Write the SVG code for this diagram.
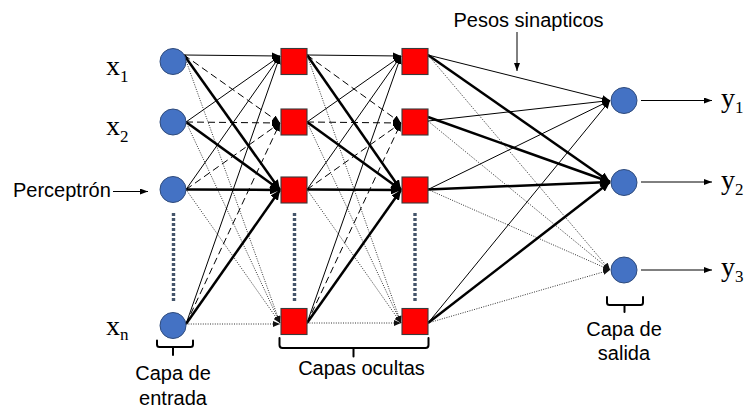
<svg xmlns="http://www.w3.org/2000/svg" width="744" height="410" viewBox="0 0 744 410">
  <style>
    .bg { fill: #ffffff; }
    .inp, .out { fill: #4472C4; stroke: #2F4B7C; stroke-width: 1; }
    .hid { fill: #FF0000; stroke: #3a3a3a; stroke-width: 1.1; }
    .thin { stroke: #000; stroke-width: 1; fill: none; marker-end: url(#aThin); }
    .dash { stroke: #000; stroke-width: 1; fill: none; stroke-dasharray: 7 4; marker-end: url(#aThin); }
    .thick { stroke: #000; stroke-width: 2.5; fill: none; marker-end: url(#aThick); }
    .dot { stroke: #333; stroke-width: 1; fill: none; stroke-dasharray: 1 1.4; marker-end: url(#aDot); }
    .ptr { stroke: #000; stroke-width: 1; fill: none; marker-end: url(#aPtr); }
    .ell { stroke: #44546A; stroke-width: 3.4; stroke-dasharray: 3 2; fill: none; }
    .brace { stroke: #000; stroke-width: 2; fill: none; stroke-linecap: round; stroke-linejoin: round; }
    .lbl { font-family: "Liberation Sans", Arial, sans-serif; font-size: 20px; fill: #000; }
    .var { font-family: "Liberation Serif", "Times New Roman", serif; font-size: 28px; fill: #000; }
    .sub { font-size: 17px; }
  </style>
  <defs>
    <marker id="aThin" markerUnits="userSpaceOnUse" markerWidth="9" markerHeight="7" refX="8" refY="3.5" orient="auto">
      <path d="M0,0 L8,3.5 L0,7 z" fill="#000"/>
    </marker>
    <marker id="aThick" markerUnits="userSpaceOnUse" markerWidth="11" markerHeight="9" refX="10" refY="4.5" orient="auto">
      <path d="M0,0 L10,4.5 L0,9 z" fill="#000"/>
    </marker>
    <marker id="aDot" markerUnits="userSpaceOnUse" markerWidth="8" markerHeight="6" refX="7" refY="3" orient="auto">
      <path d="M0,0 L7,3 L0,6 z" fill="#111"/>
    </marker>
    <marker id="aPtr" markerUnits="userSpaceOnUse" markerWidth="9" markerHeight="6" refX="8" refY="3" orient="auto">
      <path d="M0,0 L8,3 L0,6 z" fill="#000"/>
    </marker>
  </defs>

  <rect class="bg" x="0" y="0" width="744" height="410"/>

  <!-- weighted connections between layers -->
  <g id="connectors">
    <!-- input layer -> hidden layer 1 -->
    <line class="thin"  x1="184" y1="55"    x2="280" y2="56"/>
    <line class="dash"  x1="184" y1="55"    x2="280" y2="123"/>
    <line class="thick" x1="184" y1="55"    x2="280" y2="190"/>
    <line class="dot"   x1="184" y1="55"    x2="280" y2="323"/>
    <line class="thin"  x1="186" y1="122"   x2="280" y2="56"/>
    <line class="dash"  x1="186" y1="122"   x2="280" y2="123"/>
    <line class="thick" x1="186" y1="122"   x2="280" y2="190"/>
    <line class="dot"   x1="186" y1="122"   x2="280" y2="323"/>
    <line class="thin"  x1="186" y1="189.5" x2="280" y2="56"/>
    <line class="dash"  x1="186" y1="189.5" x2="280" y2="123"/>
    <line class="thick" x1="186" y1="189.5" x2="280" y2="190"/>
    <line class="dot"   x1="186" y1="189.5" x2="280" y2="323"/>
    <line class="thin"  x1="186" y1="324"   x2="280" y2="56"/>
    <line class="dash"  x1="186" y1="324"   x2="280" y2="123"/>
    <line class="thick" x1="186" y1="324"   x2="280" y2="190"/>
    <line class="dot"   x1="186" y1="324"   x2="280" y2="324"/>

    <!-- hidden layer 1 -> hidden layer 2 -->
    <line class="thin"  x1="307" y1="55"    x2="401" y2="56"/>
    <line class="dash"  x1="307" y1="55"    x2="401" y2="123"/>
    <line class="thick" x1="307" y1="55"    x2="401" y2="190"/>
    <line class="dot"   x1="307" y1="55"    x2="401" y2="323"/>
    <line class="thin"  x1="307" y1="122"   x2="401" y2="56"/>
    <line class="dash"  x1="307" y1="122"   x2="401" y2="123"/>
    <line class="thick" x1="307" y1="122"   x2="401" y2="190"/>
    <line class="dot"   x1="307" y1="122"   x2="401" y2="323"/>
    <line class="thin"  x1="307" y1="189.5" x2="401" y2="56"/>
    <line class="dash"  x1="307" y1="189.5" x2="401" y2="123"/>
    <line class="thick" x1="307" y1="189.5" x2="401" y2="190"/>
    <line class="dot"   x1="307" y1="189.5" x2="401" y2="323"/>
    <line class="thin"  x1="307" y1="323"   x2="401" y2="56"/>
    <line class="dash"  x1="307" y1="323"   x2="401" y2="123"/>
    <line class="thick" x1="307" y1="323"   x2="401" y2="190"/>
    <line class="dot"   x1="307" y1="323"   x2="401" y2="323"/>

    <!-- hidden layer 2 -> output layer -->
    <line class="thin"  x1="428" y1="55"    x2="610" y2="100.5"/>
    <line class="thick" x1="428" y1="55"    x2="610" y2="182"/>
    <line class="dot"   x1="428" y1="55"    x2="610" y2="270"/>
    <line class="thin"  x1="428" y1="121"   x2="610" y2="100.5"/>
    <line class="thick" x1="428" y1="117"   x2="610" y2="182"/>
    <line class="dot"   x1="428" y1="121"   x2="610" y2="270"/>
    <line class="thin"  x1="428" y1="189.5" x2="610" y2="100.5"/>
    <line class="thick" x1="428" y1="189.5" x2="610" y2="182"/>
    <line class="dot"   x1="428" y1="189.5" x2="610" y2="270"/>
    <line class="thin"  x1="428" y1="323"   x2="610" y2="100.5"/>
    <line class="thick" x1="428" y1="323"   x2="610" y2="182"/>
    <line class="dot"   x1="428" y1="323"   x2="610" y2="270"/>

    <!-- output arrows -->
    <line class="ptr" x1="641" y1="100.5" x2="712" y2="100.5"/>
    <line class="ptr" x1="641" y1="182"   x2="712" y2="182"/>
    <line class="ptr" x1="641" y1="270"   x2="712" y2="270"/>

    <!-- annotation pointers -->
    <line class="ptr" x1="113" y1="191.5" x2="148" y2="191.5"/>
    <line class="ptr" x1="517" y1="32"    x2="517" y2="71"/>
  </g>

  <!-- vertical ellipsis between rows -->
  <g id="ellipsis">
    <line class="ell" x1="173.5" y1="213" x2="173.5" y2="302"/>
    <line class="ell" x1="294.5" y1="213" x2="294.5" y2="302"/>
    <line class="ell" x1="415"   y1="213" x2="415"   y2="302"/>
  </g>

  <!-- input layer -->
  <g id="in1"><circle class="inp" cx="173" cy="61.5" r="13"/></g>
  <g id="in2"><circle class="inp" cx="173" cy="122" r="13"/></g>
  <g id="in3"><circle class="inp" cx="173" cy="189.5" r="13"/></g>
  <g id="in4"><circle class="inp" cx="173" cy="325.5" r="13"/></g>

  <!-- hidden layer 1 -->
  <g id="h1a"><rect class="hid" x="281" y="48.5" width="26" height="26"/></g>
  <g id="h1b"><rect class="hid" x="281" y="109" width="26" height="26"/></g>
  <g id="h1c"><rect class="hid" x="281" y="177" width="26" height="26"/></g>
  <g id="h1d"><rect class="hid" x="281" y="308.5" width="26" height="26"/></g>

  <!-- hidden layer 2 -->
  <g id="h2a"><rect class="hid" x="402" y="48.5" width="26" height="26"/></g>
  <g id="h2b"><rect class="hid" x="402" y="109" width="26" height="26"/></g>
  <g id="h2c"><rect class="hid" x="402" y="177" width="26" height="26"/></g>
  <g id="h2d"><rect class="hid" x="402" y="308.5" width="26" height="26"/></g>

  <!-- output layer -->
  <g id="out1"><circle class="out" cx="624" cy="100.5" r="13"/></g>
  <g id="out2"><circle class="out" cx="624" cy="182.5" r="13"/></g>
  <g id="out3"><circle class="out" cx="624" cy="270" r="13"/></g>

  <!-- variable labels -->
  <g id="labels-x">
    <text class="var" x="106" y="75">x<tspan class="sub" dy="7">1</tspan></text>
    <text class="var" x="106" y="135">x<tspan class="sub" dy="7">2</tspan></text>
    <text class="var" x="106" y="335">x<tspan class="sub" dy="5">n</tspan></text>
  </g>
  <g id="labels-y">
    <text class="var" x="721" y="107">y<tspan class="sub" dy="6">1</tspan></text>
    <text class="var" x="721" y="188.5">y<tspan class="sub" dy="6">2</tspan></text>
    <text class="var" x="721" y="276">y<tspan class="sub" dy="6">3</tspan></text>
  </g>

  <!-- braces under the layers -->
  <g id="braces">
    <path class="brace" d="M157,340.5 V344.5 Q157,347 159.5,347 H190.5 Q193,347 193,344.5 V340.5 M173,347 V355"/>
    <path class="brace" d="M279.5,338 V345 Q279.5,348 282.5,348 H425.5 Q428.5,348 428.5,345 V338 M353.5,348 V356.5"/>
    <path class="brace" d="M607,297 V302.5 Q607,305 609.5,305 H640.5 Q643,305 643,302.5 V297 M624.5,305 V312"/>
  </g>

  <!-- captions -->
  <g id="captions">
    <text class="lbl" x="13" y="196.5">Perceptrón</text>
    <text class="lbl" x="528.5" y="27" text-anchor="middle">Pesos sinapticos</text>
    <text class="lbl" x="173" y="380" text-anchor="middle">Capa de</text>
    <text class="lbl" x="173" y="405" text-anchor="middle">entrada</text>
    <text class="lbl" x="361.5" y="375" text-anchor="middle">Capas ocultas</text>
    <text class="lbl" x="624" y="335.5" text-anchor="middle">Capa de</text>
    <text class="lbl" x="624" y="360" text-anchor="middle">salida</text>
  </g>
</svg>
